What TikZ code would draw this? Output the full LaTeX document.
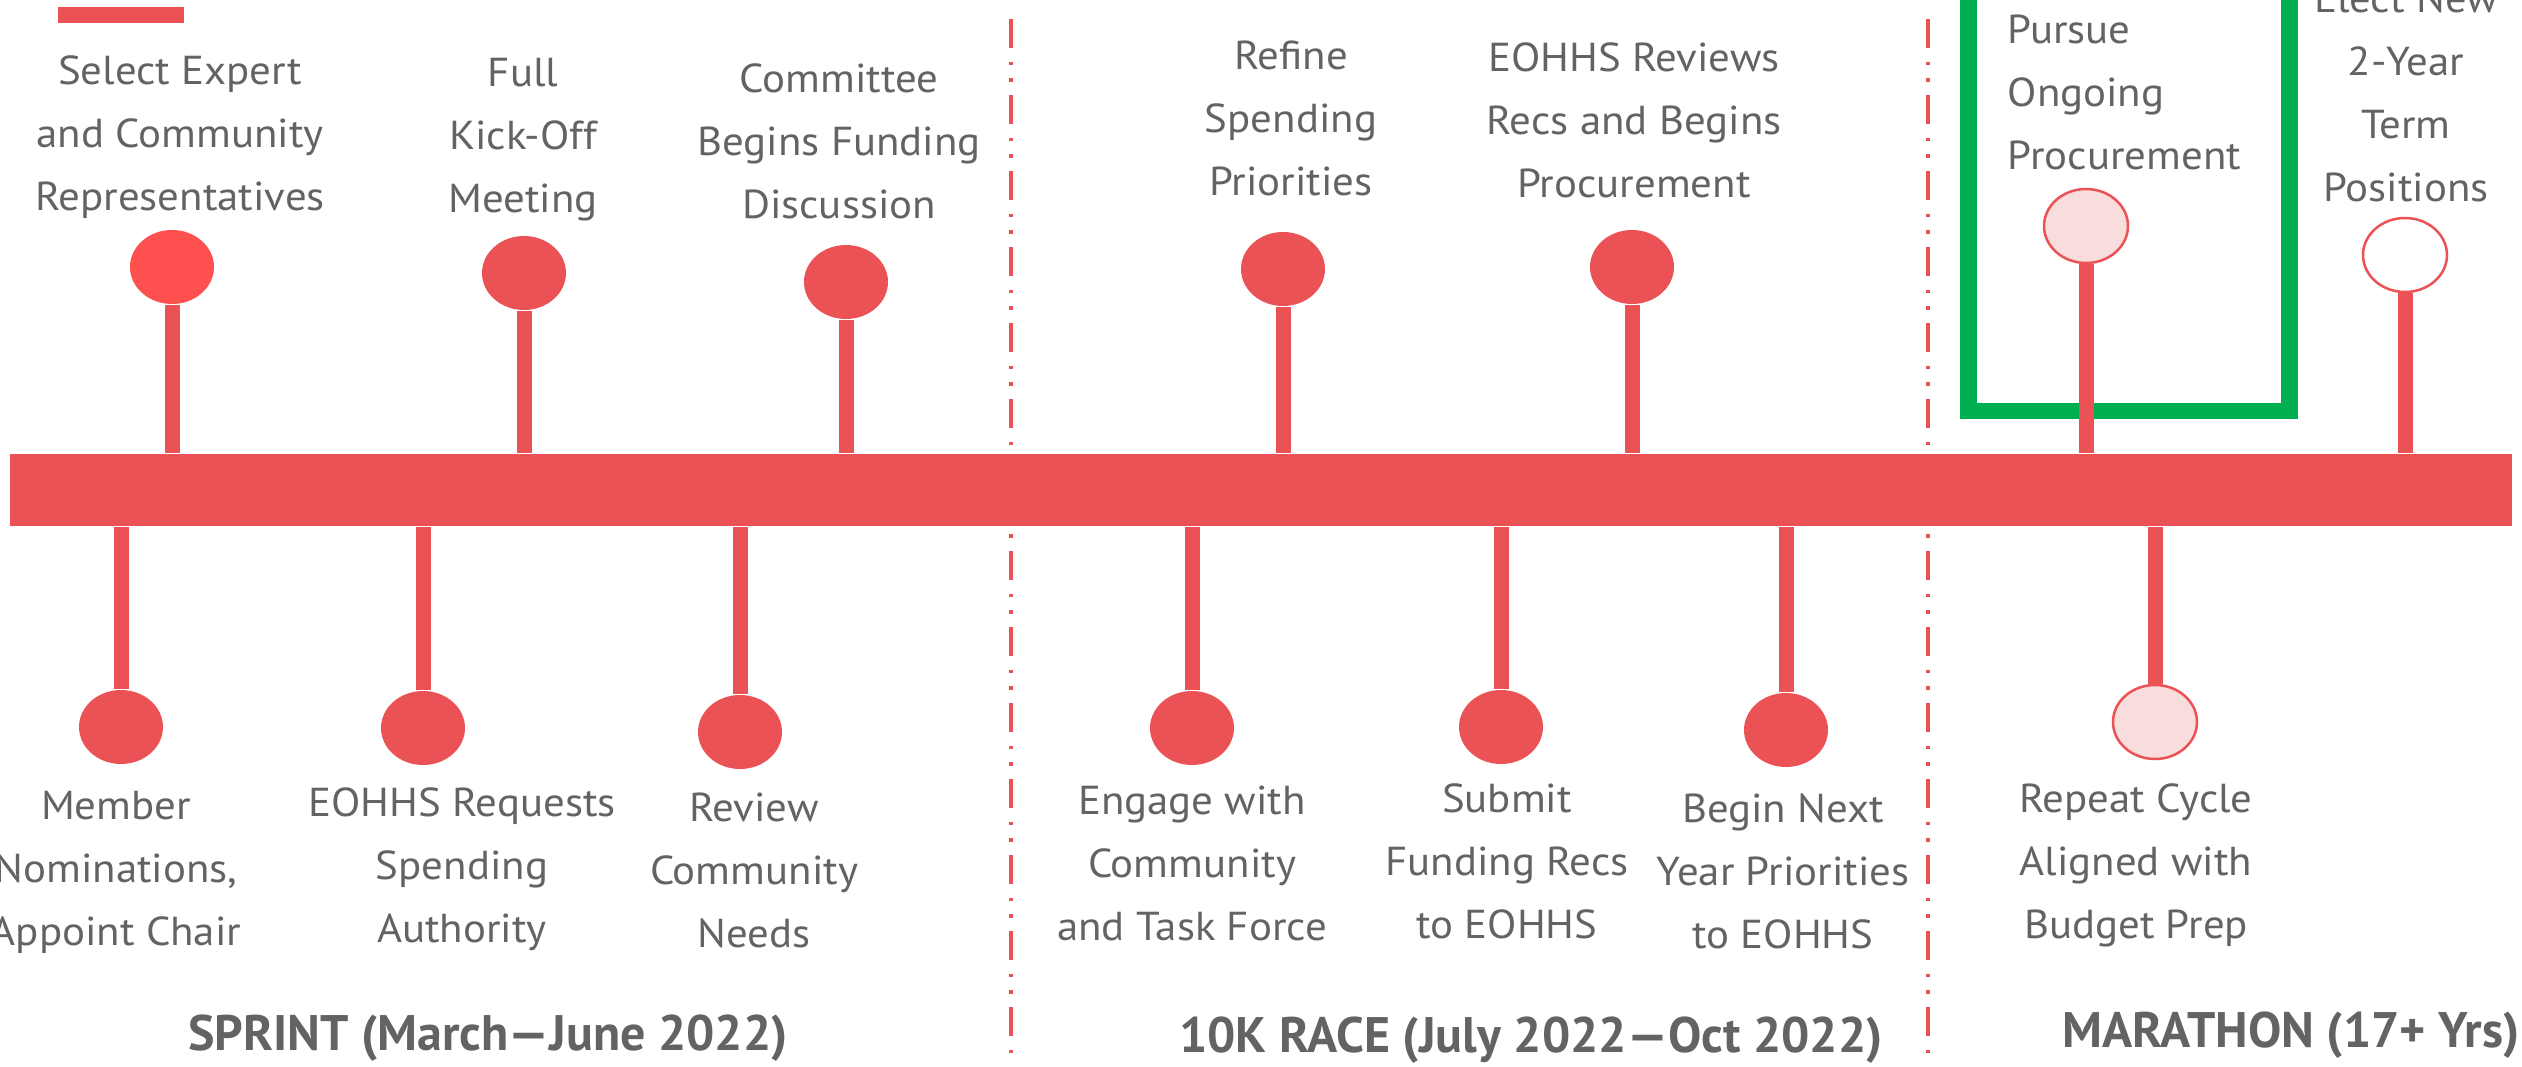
\documentclass[tikz,border=0pt]{standalone}
\usepackage{fontspec}
\setmainfont{PT Sans}[FakeStretch=1.06]
\newfontfamily\phasefont{PT Sans}
\usepackage{xcolor}
\usepackage{tikz}
\usetikzlibrary{shapes.geometric}

\definecolor{tlred}{RGB}{235,82,85}
\definecolor{tlbright}{RGB}{255,80,80}
\definecolor{tlpink}{RGB}{249,220,220}
\definecolor{tlgreen}{RGB}{0,176,80}
\definecolor{tlgray}{RGB}{99,99,99}

\begin{document}
\begin{tikzpicture}
[
	x = 0.1mm, y = -0.1mm,
	Dot/.style		= {ellipse, fill = tlred, inner sep = 0cm, minimum width = 8.4mm, minimum height = 7.4mm},
	OpenDot/.style	= {Dot, draw = tlred, line width = 0.25mm},
	Stem/.style		= {draw = tlred, line width = 1.5mm},
	Label/.style	= {font = \fontsize{11.5}{17.9}\selectfont, text = tlgray, align = center, anchor = base, inner sep = 0cm},
	Phase/.style	= {font = \fontsize{14.2}{17}\selectfont\phasefont\bfseries, text = tlgray, anchor = base, inner sep = 0cm},
	Divider/.style	= {draw = tlred, line width = 0.4mm, dash pattern = on 2.9mm off 1.4mm on 0.35mm off 1.3mm on 0.35mm off 1.3mm},
]

	\useasboundingbox (0,0) rectangle (2522,1067);
	\clip (0,0) rectangle (2522,1067);

	% phase dividers
	\draw [Divider] (1011,19) -- (1011,1056);
	\draw [Divider] (1928,19) -- (1928,1056);

	% highlight box round the ongoing step
	\draw [draw = tlgreen, line width = 1.65mm] (1968.5,-40) rectangle (2289.5,411);

	% time line and key
	\node (bar) [fill = tlred, inner sep = 0cm, minimum width = 250.2mm, minimum height = 7.2mm] at (1261,490) {};
	\node (key) [fill = tlred, inner sep = 0cm, minimum width = 12.6mm, minimum height = 1.6mm] at (121,15) {};

	% dots above the line
	\node (d1) [Dot, fill = tlbright] at (172,267) {};
	\node (d2) [Dot] at (524,273) {};
	\node (d3) [Dot] at (846,282) {};
	\node (d4) [Dot] at (1283,269) {};
	\node (d5) [Dot] at (1632,267) {};
	\node (d6) [OpenDot, fill = tlpink] at (2086,226) {};
	\node (d7) [OpenDot, fill = white] at (2405,255) {};
	%
	% dots below the line
	\node (b1) [Dot] at (121,727) {};
	\node (b2) [Dot] at (423,728) {};
	\node (b3) [Dot] at (740,732) {};
	\node (b4) [Dot] at (1192,728) {};
	\node (b5) [Dot] at (1501,727) {};
	\node (b6) [Dot] at (1786,730) {};
	\node (b7) [OpenDot, fill = tlpink] at (2155,722) {};

	\foreach \d in {d1,d2,d3,d4,d5,d6,d7}
		\draw [Stem] (\d) -- (\d |- bar.north);
	\foreach \b in {b1,b2,b3,b4,b5,b6,b7}
		\draw [Stem] (\b) -- (\b |- bar.south);

	% texts above the line (anchored at the last line)
	\node (t1) [Label] at (180,210) {Select Expert \\ and Community \\ Representatives};
	\node (t2) [Label] at (523,212) {Full \\ Kick-Off \\ Meeting};
	\node (t3) [Label] at (839,218) {Committee \\ Begins Funding \\ Discussion};
	\node (t4) [Label] at (1291,195) {Refine \\ Spending \\ Priorities};
	\node (t5) [Label] at (1634,197) {EOHHS Reviews \\ Recs and Begins \\ Procurement};
	\node (t6) [Label, align = left, anchor = base west] at (2007,169) {Pursue \\ Ongoing \\ Procurement};
	\node (t7) [Label] at (2406,201) {Elect New \\ 2-Year \\ Term \\ Positions};
	%
	% texts below the line
	\node (u1) [Label] at (116,945) {Member \\ Nominations, \\ Appoint Chair};
	\node (u2) [Label] at (462,942) {EOHHS Requests \\ Spending \\ Authority};
	\node (u3) [Label] at (754,947) {Review \\ Community \\ Needs};
	\node (u4) [Label] at (1192,940) {Engage with \\ Community \\ and Task Force};
	\node (u5) [Label] at (1507,938) {Submit \\ Funding Recs \\ to EOHHS};
	\node (u6) [Label] at (1783,948) {Begin Next \\ Year Priorities \\ to EOHHS};
	\node (u7) [Label] at (2136,938) {Repeat Cycle \\ Aligned with \\ Budget Prep};

	% phase names
	\node (p1) [Phase] at (488,1050) {SPRINT (March—June 2022)};
	\node (p2) [Phase] at (1531,1052) {10K RACE (July 2022—Oct 2022)};
	\node (p3) [Phase] at (2291,1047) {MARATHON (17+ Yrs)};

\end{tikzpicture}
\end{document}
